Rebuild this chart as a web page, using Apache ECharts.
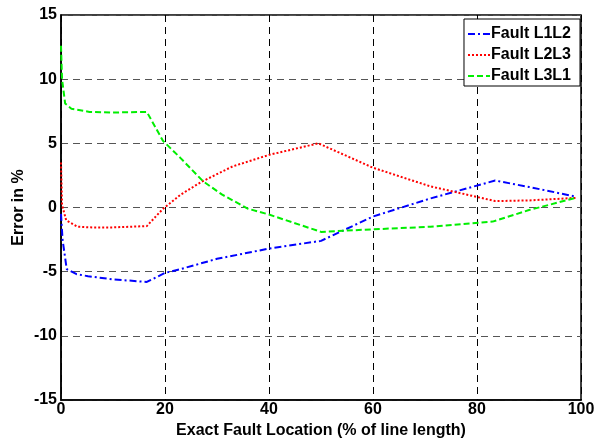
<!DOCTYPE html>
<html>
<head>
<meta charset="utf-8">
<title>Fault location error</title>
<script src="https://cdn.jsdelivr.net/npm/echarts@6/dist/echarts.min.js"></script>
<style>
  html, body { margin: 0; padding: 0; background: #fff; }
  #chart { width: 606px; height: 439px; }
</style>
</head>
<body>
<div id="chart"></div>
<script>
// fault location (% of line length) and error (%) for each fault type
var locL1L2 = [0, 0.3, 1.1, 3, 5.2, 10, 16.5, 20, 23, 30, 40, 50, 60, 71, 83.5, 90, 99];
var errL1L2 = [-0.5, -2.5, -4.8, -5.2, -5.35, -5.6, -5.8, -5.1, -4.8, -4.0, -3.2, -2.6, -0.7, 0.7, 2.1, 1.6, 0.85];

var locL2L3 = [0, 0.2, 1, 3.2, 6, 10, 16.5, 19.5, 23, 27, 33, 40, 49.5, 60, 71, 83.5, 90, 99];
var errL2L3 = [3.5, 0.2, -1.0, -1.5, -1.55, -1.55, -1.45, -0.15, 1.0, 2.0, 3.2, 4.1, 5.0, 3.1, 1.65, 0.5, 0.55, 0.75];

var locL3L1 = [0, 0.2, 0.8, 2, 5.5, 10, 16.5, 19.6, 23, 27.3, 31, 36, 40, 50, 60, 71, 83, 90, 99];
var errL3L1 = [12.6, 10, 8.1, 7.7, 7.45, 7.4, 7.45, 5.2, 3.85, 2.05, 1.0, -0.1, -0.55, -1.9, -1.7, -1.5, -1.1, -0.2, 0.75];

var seriesNames = ['Fault L1L2', 'Fault L2L3', 'Fault L3L1'];

function pairs(xs, ys) {
  return xs.map(function (x, i) { return [x, ys[i]]; });
}

var font = 'Liberation Sans, Arial, sans-serif';
var chart = echarts.init(document.getElementById('chart'));

chart.setOption({
  animation: false,
  backgroundColor: '#fff',
  grid: {
    left: 61, right: 25, top: 15, bottom: 39,
    outerBoundsMode: 'none',
    show: true, borderColor: '#000', borderWidth: 1.5
  },
  legend: {
    right: 26, top: 19,
    orient: 'vertical',
    backgroundColor: '#fff',
    borderColor: '#000',
    borderWidth: 1,
    padding: [6, 9, 1, 3],
    itemGap: 3,
    itemWidth: 22,
    itemHeight: 18,
    itemStyle: { opacity: 0 },
    textStyle: { fontFamily: font, fontWeight: 'bold', fontSize: 16, color: '#000', lineHeight: 18, padding: [0, 0, 0, -4] },
    data: seriesNames
  },
  xAxis: {
    type: 'value',
    min: 0, max: 100, interval: 20,
    name: 'Exact Fault Location (% of line length)',
    nameLocation: 'middle',
    nameGap: 21,
    nameTextStyle: { fontFamily: font, fontWeight: 'bold', fontSize: 16, color: '#000' },
    axisLine: { show: true, onZero: false, lineStyle: { color: '#000', width: 1.5 } },
    axisTick: { show: false },
    axisLabel: { fontFamily: font, fontWeight: 'bold', fontSize: 16, color: '#000', margin: 2 },
    splitLine: { show: true, lineStyle: { color: '#000', type: [7, 5], width: 1 } }
  },
  yAxis: {
    type: 'value',
    min: -15, max: 15, interval: 5,
    name: 'Error in %',
    nameLocation: 'middle',
    nameGap: 34,
    nameMoveOverlap: false,
    nameTextStyle: { fontFamily: font, fontWeight: 'bold', fontSize: 16, color: '#000' },
    axisLine: { show: true, onZero: false, lineStyle: { color: '#000', width: 1.5 } },
    axisTick: { show: false },
    axisLabel: { fontFamily: font, fontWeight: 'bold', fontSize: 16, color: '#000', margin: 4 },
    splitLine: { show: true, lineStyle: { color: '#555', type: [7, 5], width: 1 } }
  },
  series: [
    {
      name: seriesNames[0], type: 'line', symbol: 'none',
      lineStyle: { color: '#0000ff', width: 2, type: [7, 3, 2, 3] },
      itemStyle: { color: '#0000ff' },
      data: pairs(locL1L2, errL1L2)
    },
    {
      name: seriesNames[1], type: 'line', symbol: 'none',
      lineStyle: { color: '#ff0000', width: 2, type: [2, 2] },
      itemStyle: { color: '#ff0000' },
      data: pairs(locL2L3, errL2L3)
    },
    {
      name: seriesNames[2], type: 'line', symbol: 'none',
      lineStyle: { color: '#00ee00', width: 2, type: [6, 3] },
      itemStyle: { color: '#00ee00' },
      data: pairs(locL3L1, errL3L1)
    }
  ]
});
</script>
</body>
</html>
